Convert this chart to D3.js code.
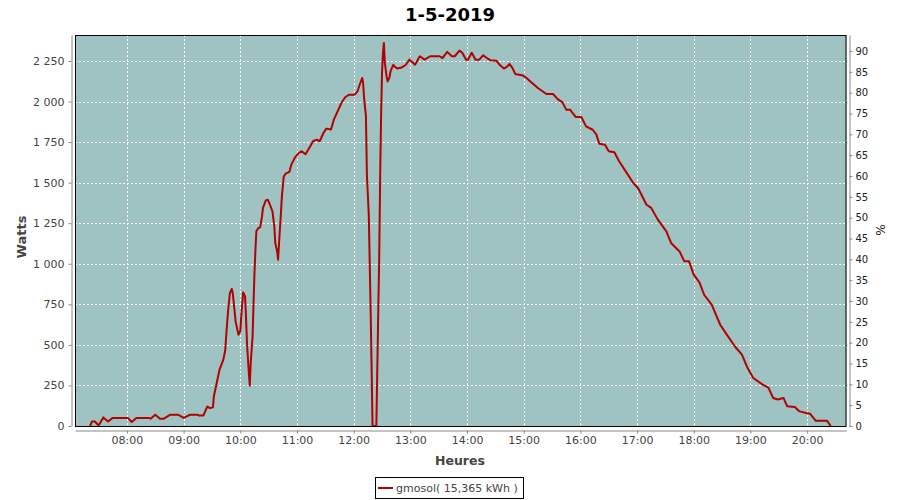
<!DOCTYPE html>
<html><head><meta charset="utf-8">
<script src="https://cdn.jsdelivr.net/npm/d3@7"></script>
<style>body{margin:0;background:#fff} svg{display:block} text{font-family:"DejaVu Sans",sans-serif}</style>
</head><body><svg id="c" width="900" height="500"></svg>
<script>
const chartTitle = "1-5-2019";
const seriesName = "gmosol( 15,365 kWh )";
const yLabel = "Watts";
const y2Label = "%";
const xLabel = "Heures";
const times = ["07:21","07:23","07:26","07:30","07:35","07:40","07:45","08:01","08:05","08:10","08:23","08:25","08:30","08:35","08:39","08:46","08:54","09:00","09:07","09:15","09:16","09:21","09:25","09:28","09:31","09:32","09:35","09:38","09:42","09:44","09:45","09:47","09:49","09:51","09:52","09:55","09:58","10:00","10:01","10:03","10:05","10:06","10:07","10:09","10:10","10:11","10:13","10:14","10:15","10:16","10:17","10:19","10:21","10:23","10:24","10:27","10:29","10:31","10:34","10:36","10:37","10:39","10:40","10:41","10:43","10:44","10:46","10:48","10:52","10:54","10:58","11:02","11:05","11:09","11:13","11:17","11:21","11:24","11:28","11:31","11:36","11:39","11:43","11:47","11:51","11:55","12:01","12:04","12:07","12:09","12:10","12:11","12:13","12:14","12:16","12:18","12:20","12:24","12:26","12:27","12:28","12:29","12:30","12:31","12:32","12:33","12:35","12:36","12:38","12:39","12:42","12:43","12:46","12:51","12:55","12:59","13:01","13:05","13:10","13:15","13:21","13:31","13:34","13:39","13:44","13:47","13:52","13:55","13:59","14:01","14:05","14:09","14:13","14:17","14:22","14:25","14:31","14:35","14:39","14:42","14:45","14:48","14:51","14:59","15:03","15:07","15:15","15:24","15:31","15:36","15:41","15:45","15:49","15:55","16:01","16:06","16:13","16:17","16:20","16:26","16:30","16:36","16:41","16:49","16:56","17:01","17:10","17:15","17:22","17:31","17:36","17:45","17:50","17:55","18:00","18:06","18:11","18:19","18:28","18:35","18:44","18:51","18:57","19:03","19:13","19:19","19:24","19:29","19:35","19:39","19:47","19:52","19:59","20:03","20:09","20:21","20:25"];
const watts = [0,28,28,3,53,28,50,50,25,50,50,45,70,45,45,70,70,50,70,70,65,65,120,110,115,182,265,347,409,464,552,706,820,845,820,645,563,585,676,824,800,676,521,327,248,390,552,758,943,1087,1200,1220,1225,1292,1344,1391,1395,1370,1323,1230,1128,1076,1025,1128,1313,1415,1539,1555,1567,1611,1656,1683,1693,1675,1714,1755,1765,1755,1806,1833,1827,1888,1939,1991,2026,2042,2042,2062,2114,2145,2114,2022,1908,1549,1300,700,0,0,700,1025,1518,1905,2176,2300,2361,2237,2150,2124,2150,2186,2227,2217,2203,2210,2225,2258,2248,2227,2279,2258,2279,2279,2268,2306,2279,2279,2314,2300,2258,2258,2300,2258,2258,2285,2264,2254,2252,2223,2203,2213,2231,2207,2170,2161,2145,2124,2083,2046,2046,2015,1995,1950,1950,1905,1905,1847,1826,1796,1740,1734,1693,1687,1632,1560,1498,1467,1364,1344,1272,1200,1128,1076,1015,1015,933,885,809,748,624,563,487,440,357,296,255,237,173,163,173,121,117,90,80,76,33,33,0];
const wattTicks = [0,250,500,750,1000,1250,1500,1750,2000,2250];
const pctTicks = [0,5,10,15,20,25,30,35,40,45,50,55,60,65,70,75,80,85,90];
const hourTicks = ["08:00","09:00","10:00","11:00","12:00","13:00","14:00","15:00","16:00","17:00","18:00","19:00","20:00"];
const timeDomain = ["07:05","20:41.7"];
const wattMax = 2410, pctMax = 93.85;

const toMin = s => { const [h,m] = s.split(":"); return +h*60 + parseFloat(m); };
const svg = d3.select("#c");
const L = 75, R = 846.5, T = 35, B = 426;
const x = d3.scaleLinear().domain(timeDomain.map(toMin)).range([L, R]);
const yL = d3.scaleLinear().domain([0, wattMax]).range([B, T]);
const yR = d3.scaleLinear().domain([0, pctMax]).range([B, T]);
const tickCol = "#444";

// title
svg.append("text").attr("x", 450).attr("y", 21).attr("text-anchor","middle")
  .style("font-size","18px").style("font-weight","bold").attr("fill","#000").text(chartTitle);

// plot background
svg.append("rect").attr("x", L).attr("y", T).attr("width", R-L).attr("height", B-T).attr("fill","#9fc3c2");

// grid
const g = svg.append("g").attr("stroke","#fff").attr("stroke-dasharray","2,2").attr("stroke-width",1);
hourTicks.forEach(h => { const xx = Math.round(x(toMin(h)))+0.5;
  g.append("line").attr("x1",xx).attr("x2",xx).attr("y1",T).attr("y2",B); });
wattTicks.slice(1).forEach(v => { const yy = Math.round(yL(v))+0.5;
  g.append("line").attr("x1",L).attr("x2",R).attr("y1",yy).attr("y2",yy); });

// line
svg.append("clipPath").attr("id","cp").append("rect").attr("x",L).attr("y",T).attr("width",R-L).attr("height",B-T+1);
const data = times.map((t,i) => ({t: toMin(t), w: watts[i]}));
svg.append("path").datum(data).attr("clip-path","url(#cp)")
  .attr("fill","none").attr("stroke","#b30000").attr("stroke-width",2).attr("stroke-linejoin","round")
  .attr("d", d3.line().x(d => x(d.t)).y(d => yL(d.w)));

// outline
svg.append("rect").attr("x", L+0.5).attr("y", T+0.5).attr("width", R-L-1).attr("height", B-T).attr("fill","none").attr("stroke","#000");

// axes
const fmtW = d => d3.format(",")(d).replace(/,/g," ");
const axL = svg.append("g").attr("transform",`translate(71.5,0)`)
  .call(d3.axisLeft(yL).tickValues(wattTicks).tickFormat(fmtW).tickSize(3).tickSizeOuter(0).tickPadding(4));
const axR = svg.append("g").attr("transform",`translate(849.5,0)`)
  .call(d3.axisRight(yR).tickValues(pctTicks).tickSize(3).tickSizeOuter(0).tickPadding(3));
const axB = svg.append("g").attr("transform",`translate(0,430.5)`)
  .call(d3.axisBottom(x).tickValues(hourTicks.map(toMin)).tickFormat((d,i) => hourTicks[i]).tickSize(3).tickSizeOuter(0).tickPadding(3));
[axL, axR, axB].forEach(a => {
  a.selectAll("path.domain").attr("stroke","#888");
  a.selectAll(".tick line").attr("stroke","#888");
  a.selectAll("text").attr("fill",tickCol).style("font-size","11px").style("font-family","'DejaVu Sans',sans-serif");
});
axR.selectAll("text").style("font-size","10px").attr("fill","#222");

// axis labels
svg.append("text").attr("transform","translate(26,237) rotate(-90)").attr("text-anchor","middle")
  .style("font-size","13px").style("font-weight","bold").attr("fill","#444").text(yLabel);
svg.append("text").attr("transform","translate(876,230) rotate(90)").attr("text-anchor","middle")
  .style("font-size","12px").attr("fill","#222").text(y2Label);
svg.append("text").attr("x", 460).attr("y", 465).attr("text-anchor","middle")
  .style("font-size","12.5px").style("font-weight","bold").attr("fill","#444").text(xLabel);

// legend
const lg = svg.append("g");
lg.append("rect").attr("x",375.5).attr("y",477.5).attr("width",148).attr("height",21).attr("fill","#fff").attr("stroke","#000");
lg.append("line").attr("x1",378).attr("x2",393).attr("y1",488).attr("y2",488).attr("stroke","#b30000").attr("stroke-width",2);
lg.append("text").attr("x",396).attr("y",492).style("font-size","11px").attr("fill","#444").text(seriesName);
</script></body></html>
